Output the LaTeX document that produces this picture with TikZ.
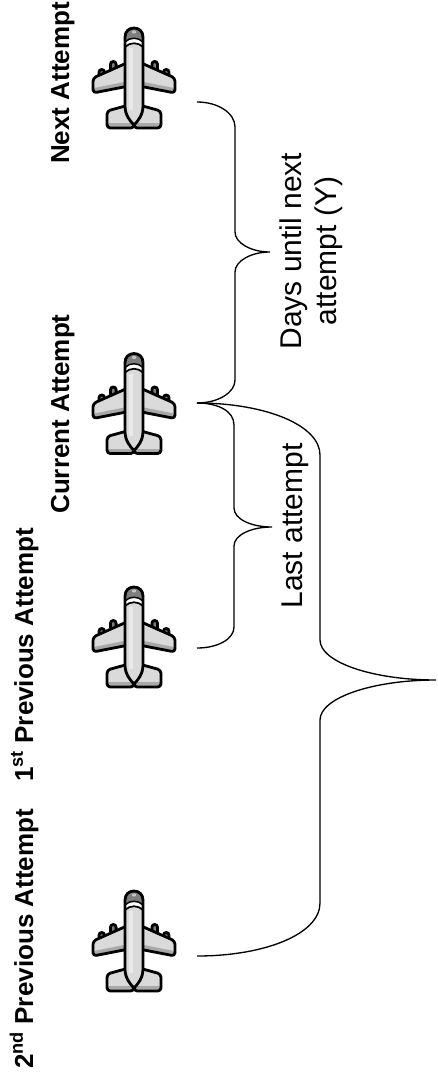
\documentclass[tikz,border=0pt]{standalone}
\usepackage{fontspec}
\setmainfont{Liberation Sans}
\definecolor{plight}{HTML}{DADADA}
\definecolor{pmid}{HTML}{A9A9A9}
\definecolor{pdark}{HTML}{7D7D7D}
\tikzset{
  pl line/.style={draw=black, line width=2.1pt, line join=round},
  brace/.style={draw=black, line width=1pt},
  lab/.style={font=\bfseries\fontsize{19.5}{23}\selectfont, rotate=90, inner sep=0pt, anchor=base},
  txt/.style={font=\fontsize{22.5}{26.6}\selectfont, rotate=90, inner sep=0pt},
  plane/.pic={
    \foreach \s in {1,-1}{
      \begin{scope}[xscale=\s]
        % engines
        \draw[pl line, fill=pdark, rounded corners=2pt] (-23.5,-16.5) rectangle (-17.9,-5);
        \draw[pl line, fill=pdark, rounded corners=2pt] (-35,-8.5) rectangle (-29.5,3);
        % wing
        \path[fill=plight, rounded corners=2.5pt] (-5,-16) -- (-41,0) -- (-41,15) -- (-5,8) -- cycle;
        \begin{scope}
          \clip[rounded corners=2.5pt] (-5,-16) -- (-41,0) -- (-41,15) -- (-5,8) -- cycle;
          \fill[pmid] (-5,3) -- (-45,11) -- (-45,20) -- (-5,20) -- cycle;
        \end{scope}
        \draw[pl line, rounded corners=2.5pt] (-5,-16) -- (-41,0) -- (-41,15) -- (-5,8) -- cycle;
        % stabiliser
        \path[fill=plight, rounded corners=2.5pt] (-5,27) -- (-27,33) -- (-27,50) -- (0,50) -- (0,27) -- cycle;
        \begin{scope}
          \clip[rounded corners=2.5pt] (-5,27) -- (-27,33) -- (-27,50) -- (0,50) -- (0,27) -- cycle;
          \fill[pmid] (-30,45) rectangle (0,52);
        \end{scope}
        \draw[pl line, rounded corners=2.5pt] (-5,27) -- (-27,33) -- (-27,50) -- (0,50) -- (0,27) -- cycle;
      \end{scope}
    }
    % fuselage
    \path[fill=plight] (-9,-41) .. controls (-9,-46.5) and (-5,-50) .. (0,-50) .. controls (5,-50) and (9,-46.5) .. (9,-41) -- (9,28) .. controls (9,37) and (4,43) .. (0,47) .. controls (-4,43) and (-9,37) .. (-9,28) -- cycle;
    \begin{scope}
      \clip (-9,-41) .. controls (-9,-46.5) and (-5,-50) .. (0,-50) .. controls (5,-50) and (9,-46.5) .. (9,-41) -- (9,28) .. controls (9,37) and (4,43) .. (0,47) .. controls (-4,43) and (-9,37) .. (-9,28) -- cycle;
      \fill[white!40!plight] (-5,-30) rectangle (-1,32);
      \fill[pdark] (-12,-55) -- (12,-55) -- (12,-36) -- (9,-36) .. controls (4,-41) and (-4,-41) .. (-9,-36) -- (-12,-36) -- cycle;
      \fill[white] (-9,-36) .. controls (-4,-41) and (4,-41) .. (9,-36) -- (9,-31) .. controls (4,-36) and (-4,-36) .. (-9,-31) -- cycle;
      \fill[pmid!70!white] (0,-46) ellipse [x radius=2.2, y radius=1.6];
      \draw[black, line width=1.1pt] (-9,-36) .. controls (-4,-41) and (4,-41) .. (9,-36);
      \draw[black, line width=1.3pt] (-9,-31) .. controls (-4,-36) and (4,-36) .. (9,-31);
    \end{scope}
    \draw[pl line] (-9,-41) .. controls (-9,-46.5) and (-5,-50) .. (0,-50) .. controls (5,-50) and (9,-46.5) .. (9,-41) -- (9,28) .. controls (9,37) and (4,43) .. (0,47) .. controls (-4,43) and (-9,37) .. (-9,28) -- cycle;
  }
}
\begin{document}
\begin{tikzpicture}[x=0.75pt, y=-0.75pt]
  \useasboundingbox[fill=white] (0,0) rectangle (437,1085);

  % planes
  \coordinate (pnext) at (134,78);
  \coordinate (pcur) at (134,403.5);
  \coordinate (pfirst) at (134,637);
  \coordinate (psecond) at (134,941);
  \pic at (pnext) {plane};
  \pic at (pcur) {plane};
  \pic at (pfirst) {plane};
  \pic at (psecond) {plane};

  % labels
  \node[lab] (lnext) at (69,83) {Next Attempt};
  \node[lab] (lcur) at (69,414) {Current Attempt};
  \node[lab] (lfirst) at (33,655) {1\textsuperscript{st} Previous Attempt};
  \node[lab] (lsecond) at (33,939) {2\textsuperscript{nd} Previous Attempt};

  % brace end points
  \coordinate (bnext) at (197,102);
  \coordinate (bcur) at (197,403);
  \coordinate (bfirst) at (197,648);
  \coordinate (bsecond) at (197,956);

  % brace: days until next attempt
  \draw[brace] (bnext) .. controls (218,102) and (235,113) .. (235,127) -- (235,232)
    .. controls (235,243) and (251,252) .. (270,252)
    .. controls (251,252) and (235,261) .. (235,272) -- (235,380)
    .. controls (235,392.7) and (218,403) .. (bcur);
  % brace: last attempt
  \draw[brace] (bcur) .. controls (218,403) and (234,411) .. (234,425) -- (234,508)
    .. controls (234,519) and (251,527) .. (272,527)
    .. controls (251,527) and (234,535) .. (234,546) -- (234,627)
    .. controls (234,639) and (218,648) .. (bfirst);
  % big brace
  \draw[brace] (bcur) .. controls (265,403) and (320,425) .. (320,455) -- (320,640)
    .. controls (320,662) and (372,680) .. (436,680)
    .. controls (372,680) and (320,698) .. (320,720) -- (320,903)
    .. controls (320,934) and (265,956) .. (bsecond);

  % brace texts
  \node[txt, align=center] (ldays) at (311.5,251) {Days until next\\attempt (Y)};
  \node[txt, anchor=base] (llast) at (302,526) {Last attempt};
\end{tikzpicture}
\end{document}
